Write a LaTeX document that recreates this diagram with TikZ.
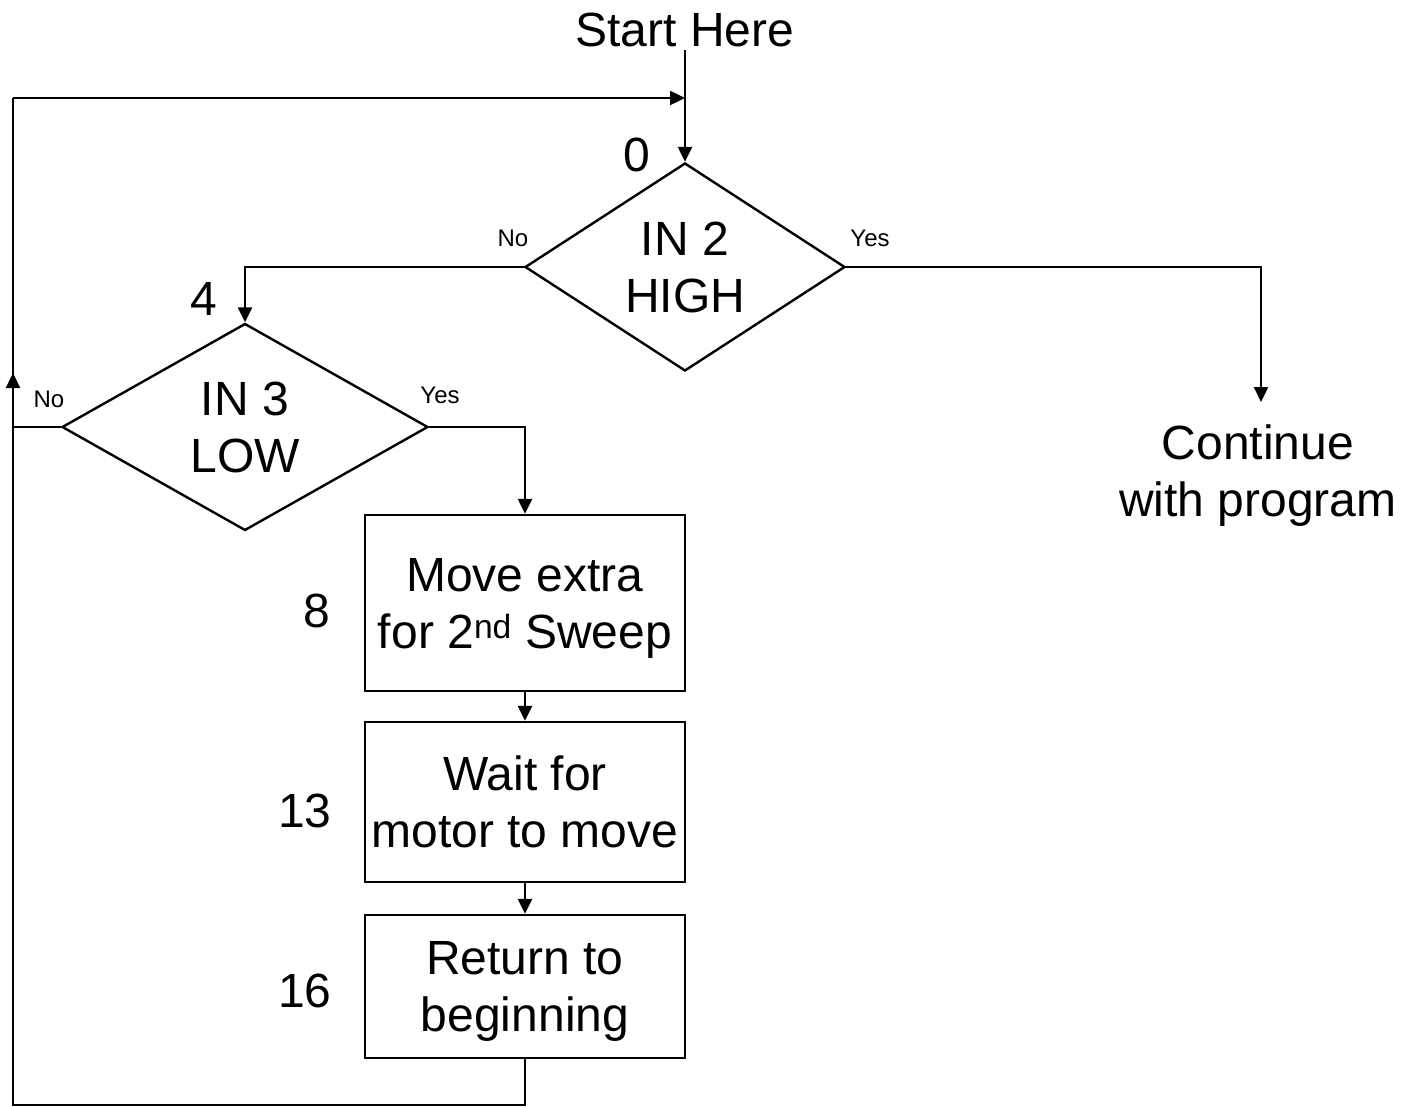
\documentclass[tikz,border=0pt]{standalone}
\usepackage{fontspec}
\setmainfont{Liberation Sans}
\usetikzlibrary{shapes.geometric,arrows.meta}
\newcommand{\nodepth}[1]{\raisebox{0pt}[\height][0pt]{#1}}
\begin{document}
\begin{tikzpicture}[x=1pt,y=-1pt,
  line width=2.4pt,
  bigtxt/.style={font=\fontsize{48}{57}\selectfont},
  smalltxt/.style={font=\fontsize{24}{28}\selectfont, inner sep=0pt, anchor=base},
  numtxt/.style={font=\fontsize{48}{57}\selectfont, inner sep=0pt, anchor=base},
  decision/.style={draw, diamond, bigtxt, align=center, inner sep=0pt, aspect=1.6},
  procbox/.style={draw, rectangle, bigtxt, align=center, inner sep=0pt, minimum width=320pt},
  arr/.style={-{Triangle[length=15pt,width=14pt]}},
]
\useasboundingbox (0,0) rectangle (1412,1107);
\fill[white] (0,0) rectangle (1412,1107);

% texts
\node[numtxt] (start) at (685,47) {Start Here};
\node[bigtxt, align=center, inner sep=0pt] (cont) at (1258,471) {Continue\\\nodepth{with program}};

% decisions
\node[decision, minimum width=320pt, minimum height=208pt] (d0) at (685,267) {IN 2\\HIGH};
\node[decision, minimum width=366pt, minimum height=207pt] (d4) at (245,427) {IN 3\\LOW};

% boxes
\node[procbox, minimum height=176pt] (b8) at (525,603) {Move extra\\\nodepth{for 2\textsuperscript{nd} Sweep}};
\node[procbox, minimum height=160pt] (b13) at (525,802) {Wait for\\motor to move};
\node[procbox, minimum height=143pt] (b16) at (525,986.5) {Return to\\\nodepth{beginning}};

% numbers
\node[numtxt] (n0) at (637,172) {0};
\node[numtxt] (n4) at (204,315) {4};
\node[numtxt] (n8) at (317,627) {8};
\node[numtxt] (n13) at (305,827) {13};
\node[numtxt] (n16) at (305,1007) {16};

% yes/no labels
\node[smalltxt] (no0) at (513,247) {No};
\node[smalltxt] (yes0) at (870,247) {Yes};
\node[smalltxt] (no4) at (49,407) {No};
\node[smalltxt] (yes4) at (440,403) {Yes};

% coordinates
\coordinate (s0) at (685,50);
\coordinate (m0) at (685,98);
\coordinate (lt) at (13,98);
\coordinate (lc) at (13,1105);
\coordinate (ua) at (13,373);
\coordinate (ce) at (1261,402);

% connectors
\draw[arr] (s0) -- (d0.north);
\draw[arr] (d0.west) -| (d4.north);
\draw[arr] (d0.east) -| (ce);
\draw[arr] (d4.east) -| (b8.north);
\draw (d4.west) -- (d4.west -| lc);
\draw[arr] (b8.south) -- (b13.north);
\draw[arr] (b13.south) -- (b16.north);
\draw (b16.south) |- (lc) -- (ua);
\draw[arr] (lc) -- (ua);
\draw (ua) -- (lt);
\draw[arr] (lt) -- (m0);
\end{tikzpicture}
\end{document}
